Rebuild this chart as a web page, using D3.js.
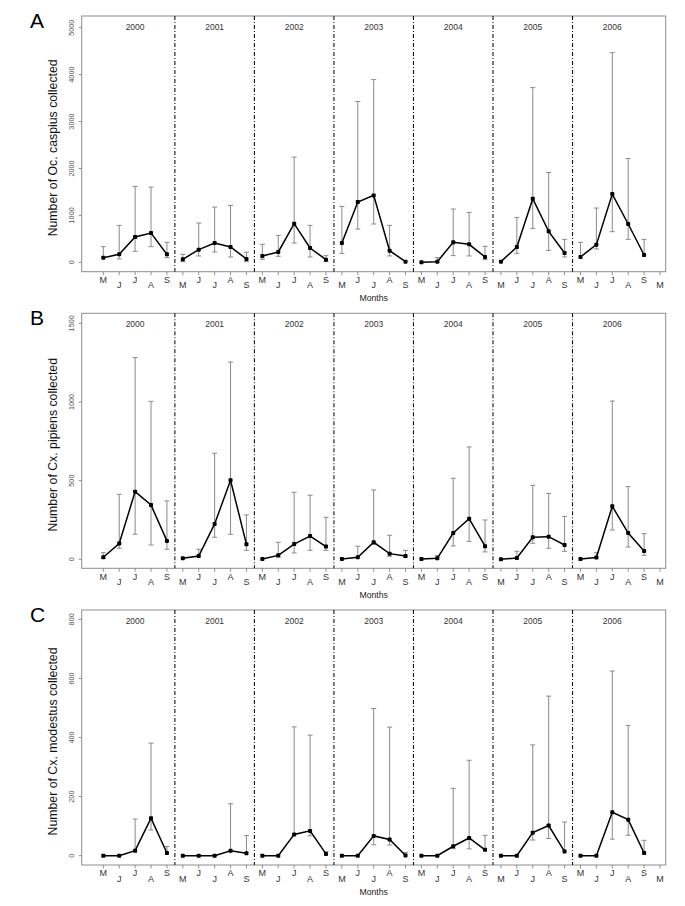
<!DOCTYPE html>
<html><head><meta charset="utf-8">
<script src="https://cdn.jsdelivr.net/npm/d3@7"></script>
<style>body{margin:0;background:#fff}svg{display:block}text{font-family:"Liberation Sans",Arial,sans-serif}</style>
</head><body><svg id="c" width="685" height="906"></svg>
<script>
const years = ["2000","2001","2002","2003","2004","2005","2006"];
const months = ["M","J","J","A","S"];
const tickLabels = years.flatMap(()=>months).concat(["M"]);

const panelLetters = ["A","B","C"];
const yTitles = ["Number of Oc. caspius collected","Number of Cx. pipiens collected","Number of Cx. modestus collected"];
const yTicksA = [0,1000,2000,3000,4000,5000];
const yTicksB = [0,500,1000,1500];
const yTicksC = [0,200,400,600,800];

// Oc. caspius
const meanA = [99,170,539,624,170, 64,270,411,326,71, 135,220,823,305,57, 411,1284,1426,248,14, 0,14,426,383,113, 14,326,1355,660,199, 113,376,1454,816,156];
const upperA = [333,787,1617,1603,426, 170,837,1177,1213,213, 383,574,2241,787,142, 1191,3426,3894,787,14, 0,99,1135,1064,340, 14,957,3723,1915,489, 426,1156,4468,2213,489];
const lowerA = [99,71,234,333,99, 14,135,220,113,14, 64,128,411,113,14, 191,709,816,135,14, 0,0,142,135,57, 14,191,723,255,113, 113,284,652,489,156];
// Cx. pipiens
const meanB = [13,100,430,345,117, 6,21,225,502,95, 2,25,97,148,81, 2,13,108,36,21, 2,6,167,258,83, 0,8,140,144,91, 2,11,337,167,53];
const upperB = [42,413,1282,1004,371, 6,64,674,1254,282, 2,108,426,407,267, 2,83,441,153,57, 2,23,515,714,250, 0,51,470,419,273, 2,42,1006,462,163];
const lowerB = [6,70,159,91,64, 6,21,140,159,57, 2,13,40,57,57, 2,13,95,19,13, 2,6,85,114,47, 0,8,102,70,51, 2,11,186,78,25];
// Cx. modestus
const meanC = [0,0,17,127,9, 0,0,0,17,8, 0,0,72,84,6, 0,0,67,55,1, 0,0,32,60,20, 0,0,78,102,14, 0,0,147,122,9];
const upperC = [0,0,124,381,31, 0,0,0,176,68, 0,0,436,408,14, 0,0,498,435,11, 0,0,228,323,69, 0,0,375,540,114, 0,0,625,441,52];
const lowerC = [0,0,17,87,9, 0,0,0,17,8, 0,0,72,67,6, 0,0,37,36,1, 0,0,24,23,20, 0,0,53,58,14, 0,0,56,69,9];

const panels = [
  {mean:meanA, upper:upperA, lower:lowerA, ticks:yTicksA, top:16, bottom:271.7, zeroY:262.3, maxY:27.7},
  {mean:meanB, upper:upperB, lower:lowerB, ticks:yTicksB, top:313.3, bottom:568.3, zeroY:559.3, maxY:323.3},
  {mean:meanC, upper:upperC, lower:lowerC, ticks:yTicksC, top:610, bottom:865, zeroY:855.7, maxY:619.3}
];

const svg = d3.select("#c");
const boxL = 81.7, boxR = 665.7;
const x = d3.scaleLinear().domain([0,35]).range([103.3,660]);

panels.forEach((p,pi)=>{
  const y = d3.scaleLinear().domain([0,p.ticks[p.ticks.length-1]]).range([p.zeroY,p.maxY]);
  const g = svg.append("g");
  g.append("rect").attr("x",boxL).attr("y",p.top).attr("width",boxR-boxL).attr("height",p.bottom-p.top)
    .attr("fill","none").attr("stroke","#8c8c8c").attr("stroke-width",1);
  tickLabels.forEach((t,i)=>{
    g.append("line").attr("x1",x(i)).attr("x2",x(i)).attr("y1",p.bottom).attr("y2",p.bottom+3.5)
      .attr("stroke","#777").attr("stroke-width",0.8);
    g.append("text").attr("x",x(i)).attr("y",p.bottom + (i%2===0?11.3:16.5)).attr("text-anchor","middle")
      .attr("font-size",9).attr("fill","#333").text(t);
  });
  p.ticks.forEach(t=>{
    g.append("line").attr("x1",boxL).attr("x2",boxL-3).attr("y1",y(t)).attr("y2",y(t))
      .attr("stroke","#777").attr("stroke-width",0.8);
    g.append("text").attr("transform",`translate(${73.5},${y(t)}) rotate(-90)`).attr("text-anchor","middle")
      .attr("font-size",7.3).attr("fill","#555").text(t);
  });
  const cy = (p.top+p.bottom)/2 + 4;
  g.append("text").attr("transform",`translate(${56.5},${cy}) rotate(-90)`).attr("text-anchor","middle")
    .attr("font-size",12.3).attr("fill","#111").text(yTitles[pi]);
  g.append("text").attr("x",30).attr("y",p.top+11.5).attr("font-size",21).attr("fill","#000").text(panelLetters[pi]);
  g.append("text").attr("x",(boxL+boxR)/2).attr("y",p.bottom+29.5).attr("text-anchor","middle")
    .attr("font-size",8.7).attr("fill","#222").text("Months");
  for(let k=1;k<years.length;k++){
    const sx = x(k*5-0.5);
    g.append("line").attr("x1",sx).attr("x2",sx).attr("y1",p.top).attr("y2",p.bottom)
      .attr("stroke","#111").attr("stroke-width",1.1).attr("stroke-dasharray","4,2,1,2");
  }
  years.forEach((yr,k)=>{
    g.append("text").attr("x",x(k*5+2)).attr("y",p.top+13.5).attr("text-anchor","middle")
      .attr("font-size",8.5).attr("fill","#333").text(yr);
  });
  p.mean.forEach((m,i)=>{
    const hi = p.upper[i], lo = p.lower[i];
    if(hi===lo) return;
    const cx = x(i);
    g.append("line").attr("x1",cx).attr("x2",cx).attr("y1",y(hi)).attr("y2",y(lo))
      .attr("stroke","#8a8a8a").attr("stroke-width",1);
    if(hi>m) g.append("line").attr("x1",cx-2.5).attr("x2",cx+2.5).attr("y1",y(hi)).attr("y2",y(hi))
      .attr("stroke","#8a8a8a").attr("stroke-width",1);
    if(lo<m) g.append("line").attr("x1",cx-2.5).attr("x2",cx+2.5).attr("y1",y(lo)).attr("y2",y(lo))
      .attr("stroke","#8a8a8a").attr("stroke-width",1);
  });
  const line = d3.line().x(d=>x(d.i)).y(d=>y(d.v));
  years.forEach((yr,k)=>{
    const pts = d3.range(5).map(j=>({i:k*5+j, v:p.mean[k*5+j]}));
    g.append("path").attr("d",line(pts)).attr("fill","none").attr("stroke","#000").attr("stroke-width",1.5);
  });
  p.mean.forEach((m,i)=>{
    g.append("rect").attr("x",x(i)-2).attr("y",y(m)-2).attr("width",4).attr("height",4)
      .attr("rx",0.8).attr("fill","#000");
  });
});
</script></body></html>
